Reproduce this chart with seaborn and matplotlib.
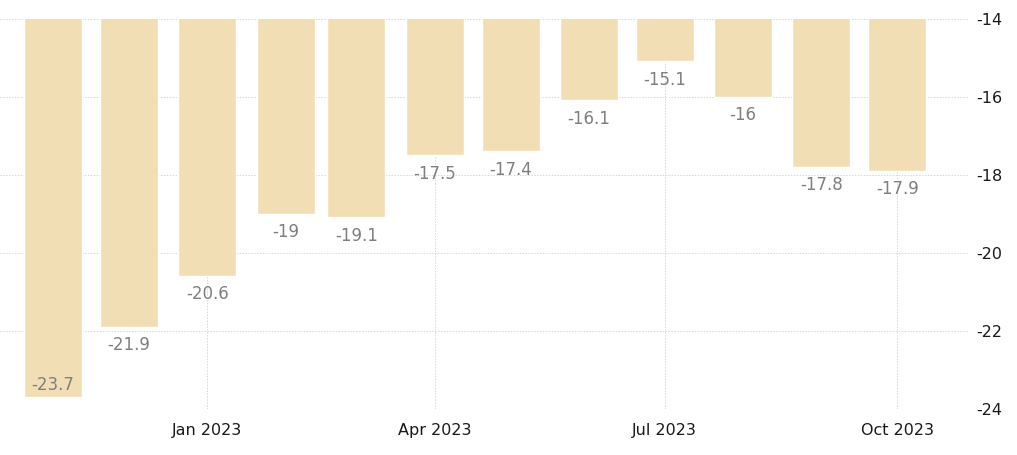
import matplotlib
matplotlib.use("Agg")
import matplotlib.pyplot as plt
import matplotlib.dates as mdates
import pandas as pd
import seaborn as sns

# dati mensili (nov 2022 - ott 2023)
months = ["2022-11-01", "2022-12-01", "2023-01-01", "2023-02-01", "2023-03-01", "2023-04-01",
          "2023-05-01", "2023-06-01", "2023-07-01", "2023-08-01", "2023-09-01", "2023-10-01"]
values = [-23.7, -21.9, -20.6, -19, -19.1, -17.5, -17.4, -16.1, -15.1, -16, -17.8, -17.9]
labels = ["-23.7", "-21.9", "-20.6", "-19", "-19.1", "-17.5", "-17.4", "-16.1", "-15.1", "-16", "-17.8", "-17.9"]
y_ticks = [-14, -16, -18, -20, -22, -24]
x_ticks = ["2023-01-01", "2023-04-01", "2023-07-01", "2023-10-01"]
x_ticklabels = ["Jan 2023", "Apr 2023", "Jul 2023", "Oct 2023"]

bar_color = "#F2DEB4"
grid_color = "#d6d6d6"

df = pd.DataFrame({"date": mdates.datestr2num(months), "value": values})

sns.set_style("white")
plt.rcParams["font.family"] = ["DejaVu Sans"]

fig = plt.figure(figsize=(10.17, 4.56), dpi=100)
ax = fig.add_axes([0.0, 1 - 409.5 / 456, 968 / 1017, (409.5 - 19.5) / 456])

sns.barplot(data=df, x="date", y="value", native_scale=True, color=bar_color,
            saturation=1, width=0.82, ax=ax, zorder=2)

ax.set_ylim(-24, -14)
ax.set_xlim(mdates.datestr2num("2022-10-11"), mdates.datestr2num("2023-10-29"))

# etichette dei valori sotto le barre (la prima dentro la barra)
for d, v, lab in zip(df["date"], values, labels):
    if v < -23:
        ax.text(d, v + 0.32, lab, ha="center", va="center", color="#7f7f7f", fontsize=12, zorder=3)
    else:
        ax.text(d, v - 0.45, lab, ha="center", va="center", color="#7f7f7f", fontsize=12, zorder=3)

ax.yaxis.tick_right()
ax.set_yticks(y_ticks)
ax.set_yticklabels([str(t) for t in y_ticks])
ax.set_xticks(mdates.datestr2num(x_ticks))
ax.set_xticklabels(x_ticklabels)
ax.tick_params(axis="y", length=0, labelsize=11.5, pad=6, colors="#1a1a1a")
ax.tick_params(axis="x", length=6, color=grid_color, labelsize=11.5, pad=4, labelcolor="#1a1a1a")

ax.grid(True, axis="both", linestyle=(0, (1.5, 1.5)), color=grid_color, linewidth=0.7, zorder=0)
ax.set_axisbelow(True)
for s in ax.spines.values():
    s.set_visible(False)
ax.set_xlabel("")
ax.set_ylabel("")

fig.savefig("out.png", dpi=100)
